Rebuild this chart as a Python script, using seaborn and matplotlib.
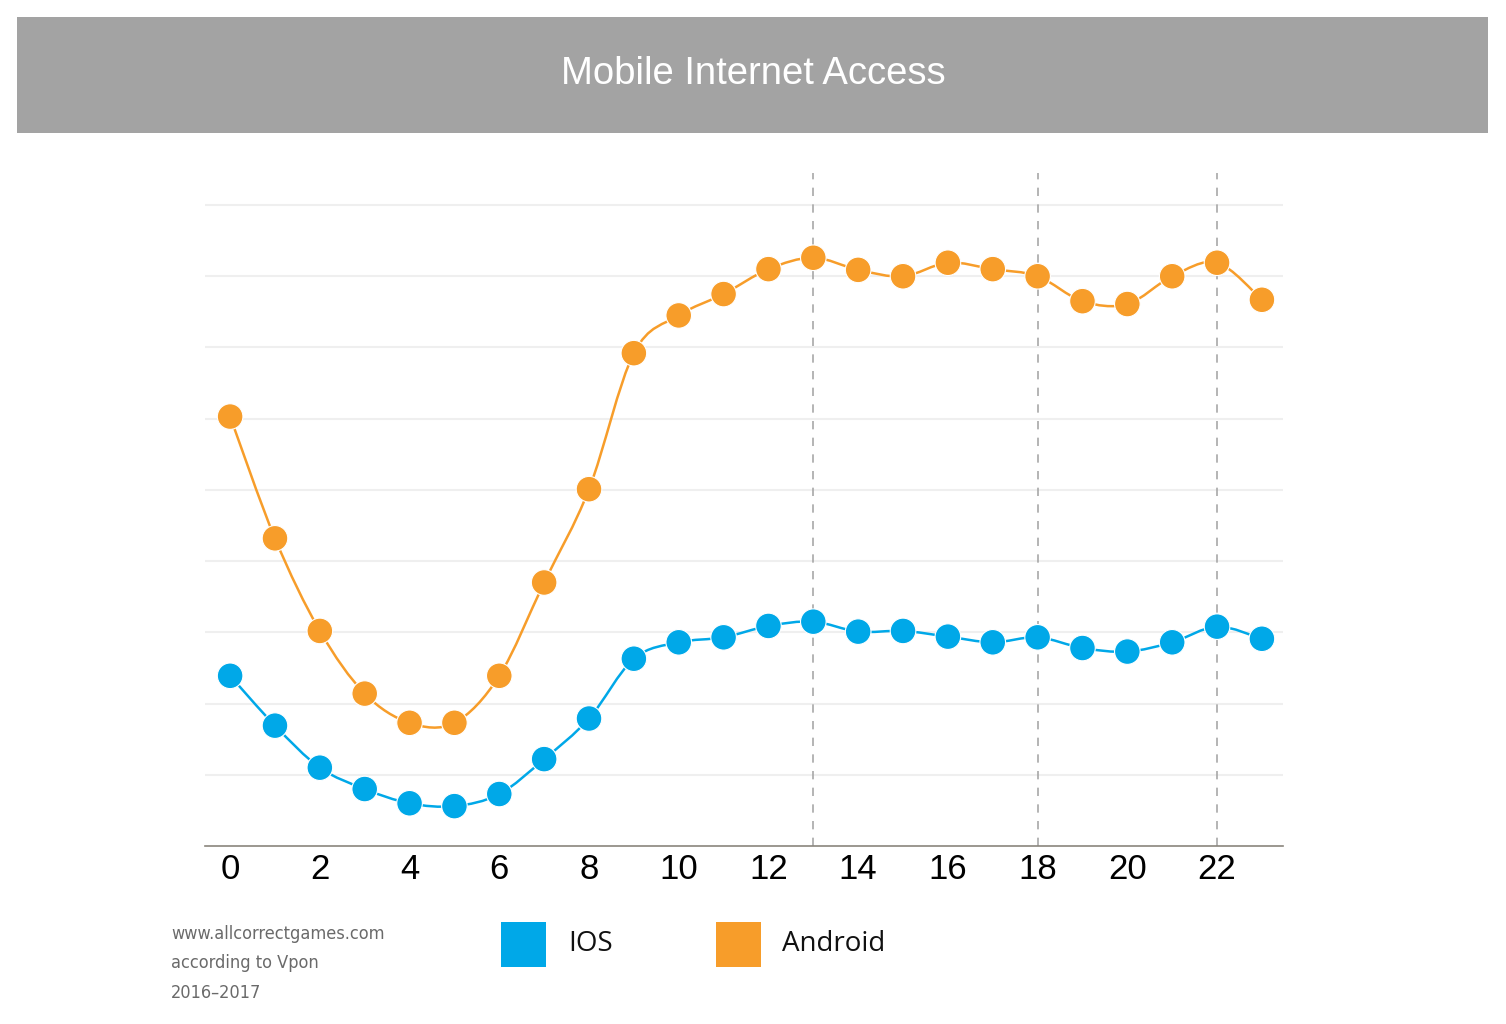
import matplotlib
matplotlib.use("Agg")
import matplotlib.pyplot as plt
from matplotlib.patches import Rectangle, PathPatch
from matplotlib.path import Path
import seaborn as sns
import pandas as pd

# hours of the day and relative access level (units = gridline steps)
HOURS = list(range(24))
IOS = [2.39, 1.69, 1.10, 0.80, 0.60, 0.56, 0.73, 1.22, 1.79, 2.63, 2.86, 2.93,
       3.09, 3.15, 3.01, 3.02, 2.94, 2.86, 2.93, 2.78, 2.73, 2.86, 3.08, 2.91]
ANDROID = [6.03, 4.32, 3.02, 2.14, 1.73, 1.73, 2.39, 3.70, 5.01, 6.92, 7.45, 7.75,
           8.10, 8.26, 8.09, 8.00, 8.19, 8.10, 8.00, 7.65, 7.61, 8.00, 8.19, 7.67]
MARKED_HOURS = [13, 18, 22]
SERIES = ["IOS", "Android"]

BLUE = "#00a8e8"
ORANGE = "#f79d2a"
PALETTE = {"IOS": BLUE, "Android": ORANGE}

W, H = 1506, 1024


def smooth_path(xs, ys):
    # catmull-rom style bezier through the points (for drawing only)
    pts = list(zip(xs, ys))
    verts = [pts[0]]
    codes = [Path.MOVETO]
    n = len(pts)
    for i in range(n - 1):
        p0 = pts[i - 1] if i > 0 else pts[i]
        p1 = pts[i]
        p2 = pts[i + 1]
        p3 = pts[i + 2] if i + 2 < n else pts[i + 1]
        c1 = (p1[0] + (p2[0] - p0[0]) / 6, p1[1] + (p2[1] - p0[1]) / 6)
        c2 = (p2[0] - (p3[0] - p1[0]) / 6, p2[1] - (p3[1] - p1[1]) / 6)
        verts += [c1, c2, p2]
        codes += [Path.CURVE4] * 3
    return Path(verts, codes)


df = pd.DataFrame({
    "hour": HOURS * 2,
    "value": IOS + ANDROID,
    "os": ["IOS"] * len(HOURS) + ["Android"] * len(HOURS),
})

sns.set_theme(style="white")
plt.rcParams["font.family"] = ["Liberation Sans", "DejaVu Sans"]

fig = plt.figure(figsize=(W / 100, H / 100), dpi=100)
ax = fig.add_axes([205 / W, 1 - 846 / H, (1283 - 205) / W, (846 - 173) / H])

# title banner
fig.patches.append(Rectangle((17 / W, 1 - 133 / H), (1488 - 17) / W, (133 - 17) / H,
                             transform=fig.transFigure, facecolor="#a3a3a3",
                             edgecolor="none", zorder=0))
fig.text(753 / W, 1 - 74 / H, "Mobile Internet Access", color="white",
         fontsize=27.5, ha="center", va="center",
         family=["Liberation Sans", "DejaVu Sans"])

# grid
for g in range(1, 10):
    ax.axhline(g, color="#efefef", linewidth=1.5, zorder=0)
for h in MARKED_HOURS:
    ax.axvline(h, color="#a8a8a8", linewidth=1.2, linestyle=(0, (5, 5)), zorder=1)

# lines
for name, vals in [("IOS", IOS), ("Android", ANDROID)]:
    ax.add_patch(PathPatch(smooth_path(HOURS, vals), facecolor="none",
                           edgecolor=PALETTE[name], linewidth=1.8, zorder=2))

sns.scatterplot(data=df, x="hour", y="value", hue="os", hue_order=SERIES,
                palette=PALETTE, s=340, edgecolor="white", linewidth=0.8,
                legend=False, ax=ax, zorder=3)

ax.set_xlim(-0.56, 23.47)
ax.set_ylim(0, 9.45)
ax.set_xlabel("")
ax.set_ylabel("")
ax.set_yticks([])
ax.set_xticks(HOURS)
ax.set_xticklabels([str(h) if h % 2 == 0 else "" for h in HOURS])
ax.tick_params(axis="x", direction="in", length=10, width=1.2, color="#8a857d",
               labelsize=25, labelcolor="black", pad=5)
for lbl in ax.get_xticklabels():
    lbl.set_family(["Liberation Sans", "DejaVu Sans"])
for side in ["top", "left", "right"]:
    ax.spines[side].set_visible(False)
ax.spines["bottom"].set_color("#8a857d")
ax.spines["bottom"].set_linewidth(1.2)

# legend
for name, x0, tx in [("IOS", 501, 568), ("Android", 716, 782)]:
    fig.patches.append(Rectangle((x0 / W, 1 - 967 / H), 45 / W, 45 / H,
                                 transform=fig.transFigure,
                                 facecolor=PALETTE[name], edgecolor="none"))
    fig.text(tx / W, 1 - 944 / H, name, fontsize=20, color="#111111",
             ha="left", va="center", family=["Open Sans", "DejaVu Sans"])

# source note
for i, line in enumerate(["www.allcorrectgames.com", "according to Vpon", "2016\u20132017"]):
    fig.text(171 / W, 1 - (934 + i * 29.5) / H, line, fontsize=13, color="#6a6a6a",
             ha="left", va="center", family="DejaVu Sans", stretch="condensed")

fig.savefig("out.png", dpi=100)
